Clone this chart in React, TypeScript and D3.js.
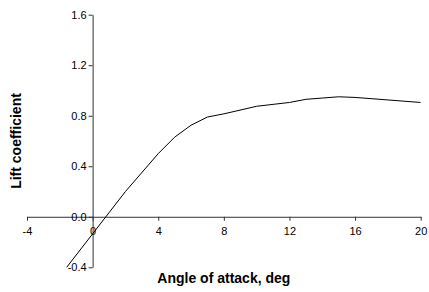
import { useEffect, useRef } from 'react';
import * as d3 from 'd3';

// Lift curve
const angles = [-2, 0, 2, 4, 5, 6, 7, 8, 10, 11, 12, 13, 14, 15, 16, 18, 20];
const liftCoef = [-0.47, -0.135, 0.2, 0.5, 0.63, 0.725, 0.79, 0.815, 0.875, 0.89, 0.905, 0.93, 0.94, 0.95, 0.945, 0.925, 0.905];

const xTicks = [-4, 0, 4, 8, 12, 16, 20];
const yTicks = [-0.4, 0, 0.4, 0.8, 1.2, 1.6];

const xTitle = 'Angle of attack, deg';
const yTitle = 'Lift coefficient';

export default function App() {
    const svgRef = useRef<SVGSVGElement>(null);

    useEffect(() => {
        if (!svgRef.current) return;
        const svg = d3.select(svgRef.current);
        svg.selectAll('*').remove();

        const width = 429;
        const height = 292;
        const left = 27, right = 420.7, top = 14.7, bottom = 267.3;

        const x = d3.scaleLinear().domain([-4, 20]).range([left, right]);
        const y = d3.scaleLinear().domain([-0.4, 1.6]).range([bottom, top]);

        svg.attr('width', width).attr('height', height);

        svg.append('defs').append('clipPath').attr('id', 'plot-clip')
            .append('rect')
            .attr('x', left).attr('y', top)
            .attr('width', right - left).attr('height', bottom - top);

        const font = '"Liberation Sans", Arial, sans-serif';
        // plain hyphen for negatives, like the original
        const hyphen = (s: string) => s.replace('\u2212', '-');

        // x axis sits at y = 0
        const xAxis = svg.append('g')
            .attr('transform', `translate(0,${y(0)})`)
            .call(d3.axisBottom(x).tickValues(xTicks).tickSize(4).tickSizeOuter(0)
                .tickFormat(d => hyphen(d3.format('d')(d as number))));

        // y axis sits at x = 0
        const yAxis = svg.append('g')
            .attr('transform', `translate(${x(0)},0)`)
            .call(d3.axisLeft(y).tickValues(yTicks).tickSize(4).tickSizeOuter(0)
                .tickFormat(d => hyphen(d3.format('.1f')(d as number))));

        [xAxis, yAxis].forEach(g => {
            g.select('.domain').attr('stroke', '#333').attr('stroke-width', 1);
            g.selectAll('.tick line').attr('stroke', '#333');
            g.selectAll('.tick text')
                .attr('fill', '#000')
                .style('font-family', font)
                .style('font-size', '11px');
        });
        xAxis.selectAll('.tick text').attr('dy', '1em').attr('y', 7);
        yAxis.selectAll('.tick text').attr('x', -6);

        const line = d3.line<number>()
            .x((_, i) => x(angles[i]))
            .y(d => y(d));

        svg.append('path')
            .datum(liftCoef)
            .attr('clip-path', 'url(#plot-clip)')
            .attr('fill', 'none')
            .attr('stroke', '#000')
            .attr('stroke-width', 1)
            .attr('d', line);

        svg.append('text')
            .attr('x', (left + right) / 2)
            .attr('y', 283)
            .attr('text-anchor', 'middle')
            .style('font-family', font)
            .style('font-size', '14px')
            .style('font-weight', 'bold')
            .text(xTitle);

        svg.append('text')
            .attr('transform', `translate(21,${(top + bottom) / 2}) rotate(-90)`)
            .attr('text-anchor', 'middle')
            .style('font-family', font)
            .style('font-size', '14px')
            .style('font-weight', 'bold')
            .text(yTitle);
    }, []);

    return (
        <div style={{ position: 'absolute', left: 0, top: 0 }}>
            <svg ref={svgRef} style={{ display: 'block', background: '#fff' }} />
        </div>
    );
}
